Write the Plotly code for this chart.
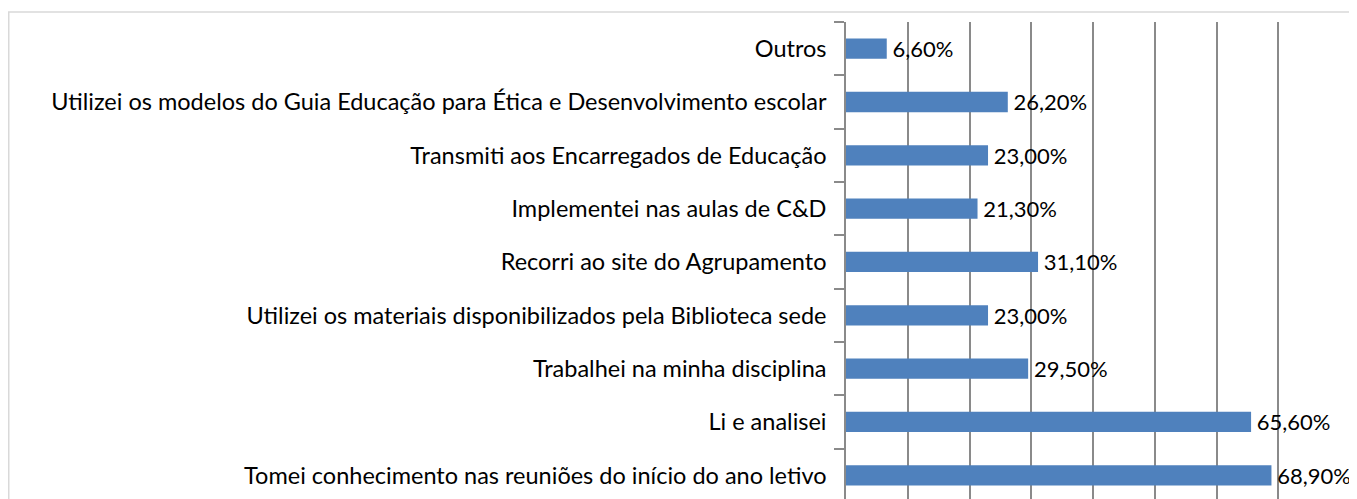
import plotly.graph_objects as go

categories = [
    "Tomei conhecimento nas reuniões do início do ano letivo",
    "Li e analisei",
    "Trabalhei na minha disciplina",
    "Utilizei os materiais disponibilizados pela Biblioteca sede",
    "Recorri ao site do Agrupamento",
    "Implementei nas aulas de C&D",
    "Transmiti aos Encarregados de Educação",
    "Utilizei os modelos do Guia Educação para Ética e Desenvolvimento escolar",
    "Outros",
]
values = [68.9, 65.6, 29.5, 23.0, 31.1, 21.3, 23.0, 26.2, 6.6]
labels = ["\u2009" + f"{v:.2f}%".replace(".", ",") for v in values]

# the page adds an 8px body margin, so figure pixels are screen pixels minus 8
OFF = 8
W, H = 1357 - OFF, 499 - OFF
x0px, x1px = 846 - OFF, 1340 - OFF
y_top, y_bot = 22 - OFF, 499 - OFF
band = 53.33

FONT = "Lato"
FS = 23.5
GRID = "#8a8a8a"

fig = go.Figure(go.Bar(
    x=values, y=categories, orientation="h",
    marker=dict(color="#4f81bd", line=dict(width=0)),
    text=labels, textposition="outside", cliponaxis=False,
    constraintext="none",
    textfont=dict(family=FONT, size=22, color="#000000"),
    width=0.38,
))

span = (y_bot - y_top) / band
fig.update_layout(
    width=W, height=H,
    margin=dict(l=x0px, r=W - x1px, t=y_top, b=H - y_bot, pad=0),
    paper_bgcolor="white", plot_bgcolor="white",
    showlegend=False,
    font=dict(family=FONT, size=FS, color="#000000"),
    xaxis=dict(range=[0, 80], dtick=10, showticklabels=False, showgrid=True,
               gridcolor=GRID, gridwidth=1.6, zeroline=False, showline=False,
               fixedrange=True),
    yaxis=dict(type="category", categoryorder="array", categoryarray=categories,
               range=[8.5 - span, 8.5], showline=True, linecolor=GRID, linewidth=1.6,
               ticks="outside", tickson="boundaries", ticklen=10, tickcolor=GRID,
               tickwidth=1.6, ticklabelstandoff=13,
               showgrid=False, zeroline=False, automargin=False,
               tickfont=dict(family=FONT, size=FS, color="#000000")),
)

def px_to_paper_x(p):
    return (p - x0px) / (x1px - x0px)

def px_to_paper_y(p):
    return (y_bot - p) / (y_bot - y_top)

fig.add_shape(type="rect", xref="paper", yref="paper",
              x0=px_to_paper_x(0.75), x1=px_to_paper_x(1370),
              y0=px_to_paper_y(520), y1=px_to_paper_y(4),
              line=dict(color="#d9d9d9", width=1.5), fillcolor="rgba(0,0,0,0)", layer="below")

fig.write_html("out.html")
